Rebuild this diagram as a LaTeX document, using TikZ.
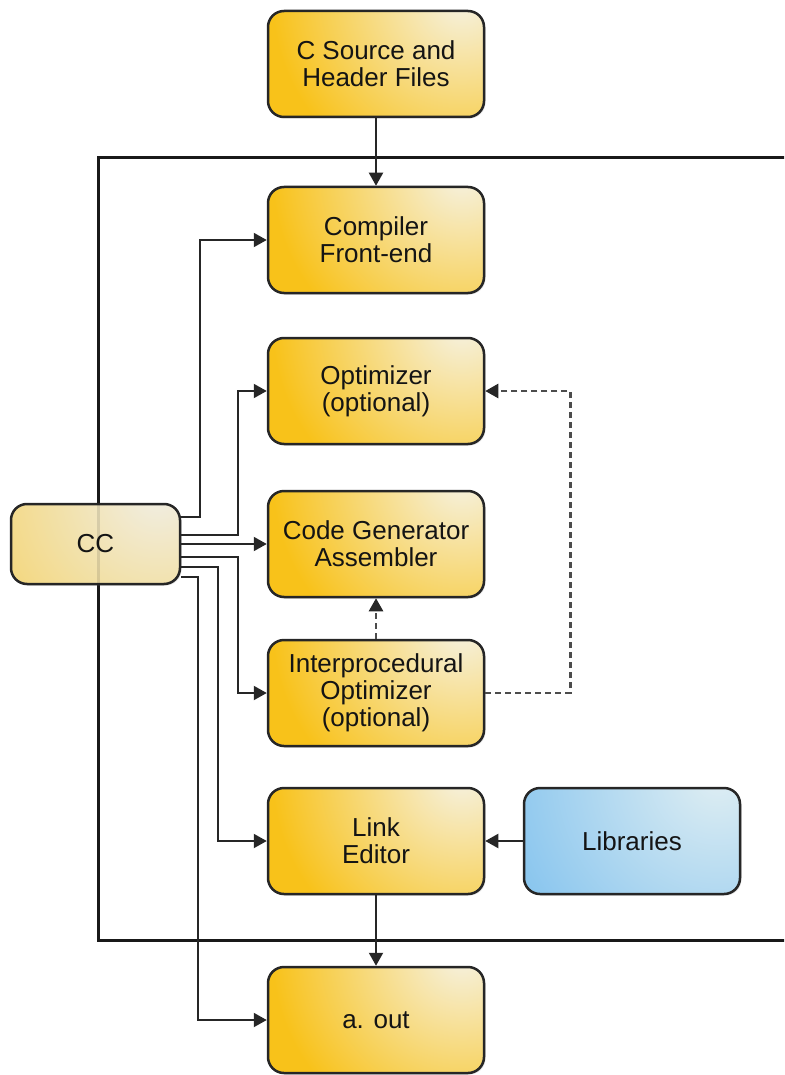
\documentclass[tikz,border=0pt]{standalone}
\usepackage{fontspec}
\setmainfont{Liberation Sans}
\usetikzlibrary{arrows.meta,shadows,calc}
\definecolor{ydark}{HTML}{F8C21A}
\definecolor{ylight}{HTML}{F6F2E2}
\definecolor{cdark}{HTML}{F4CF58}
\definecolor{clight}{HTML}{F1EEE4}
\definecolor{bdark}{HTML}{86C4EE}
\definecolor{blight}{HTML}{DFEEF3}
\definecolor{txt}{HTML}{141414}
\begin{document}
\begin{tikzpicture}[x=1pt,y=-1pt,
  glow/.style n args={3}{path picture={
    \fill[#1] (path picture bounding box.south west) rectangle (path picture bounding box.north east);
    \shade[inner color=#2, outer color=#1]
      ($(path picture bounding box.north east)+(-22,-12)$) circle (#3);}},
  box/.style={draw=black!85, line width=2.5pt, rounded corners=16pt,
    minimum width=216pt, minimum height=106pt, align=center, text=txt,
    font=\fontsize{26}{27}\selectfont, fill=ydark, glow={ydark}{ylight}{190pt},
    drop shadow={opacity=0.25, shadow xshift=1.5pt, shadow yshift=-1.5pt}},
  ccbox/.style={box, minimum width=169pt, minimum height=80pt,
    fill=cdark, glow={cdark}{clight}{240pt}},
  libbox/.style={box, fill=bdark, glow={bdark}{blight}{230pt}},
  tip/.style={-{Triangle[length=13pt,width=14pt]}},
  conn/.style={draw=black!85, line width=2pt, tip},
  dconn/.style={draw=black!70, line width=2.5pt, dash pattern=on 6pt off 4pt,
    -{Triangle[length=13pt,width=14pt,fill=black!85,color=black!85]}}
]
\clip (0,0) rectangle (784,1075);
% container frame (extends past the right edge)
\draw[line width=3pt, black!90] (98,158) rectangle (820,940);

\node[box] (src) at (376,64) {C Source and\\Header Files};
\node[box] (fe) at (376,240) {Compiler\\Front-end};
\node[box] (opt) at (376,391) {Optimizer\\(optional)};
\node[box] (cg) at (376,544) {Code Generator\\Assembler};
\node[box] (ipo) at (376,693) {Interprocedural\\Optimizer\\(optional)};
\node[box] (le) at (376,841) {Link\\Editor};
\node[libbox] (lib) at (632,841) {Libraries};
\node[box] (aout) at (376,1020) {a. out};
\node[ccbox] (cc) at (95.5,544) {CC};
\draw[line width=3pt, black!90, opacity=0.12] (98,503) -- (98,585);

\draw[conn] (src) -- (fe);
\draw[conn] ($(cc.east)+(0,-27)$) -| ($(fe.west)+(-67,0)$) -- (fe.west);
\draw[conn] ($(cc.east)+(0,-9)$) -| ($(opt.west)+(-29,0)$) -- (opt.west);
\draw[conn] (cc.east) -- (cg.west);
\draw[conn] ($(cc.east)+(0,13)$) -| ($(ipo.west)+(-29,0)$) -- (ipo.west);
\draw[conn] ($(cc.east)+(0,23)$) -| ($(le.west)+(-49,0)$) -- (le.west);
\draw[conn] ($(cc.east)+(0,33)$) -| ($(aout.west)+(-69,0)$) -- (aout.west);
\draw[conn] (lib) -- (le);
\draw[conn] (le) -- (aout);
\draw[dconn] (ipo) -- (cg);
\draw[dconn] (ipo.east) -- ++(85,0) |- (opt.east);
\end{tikzpicture}
\end{document}
